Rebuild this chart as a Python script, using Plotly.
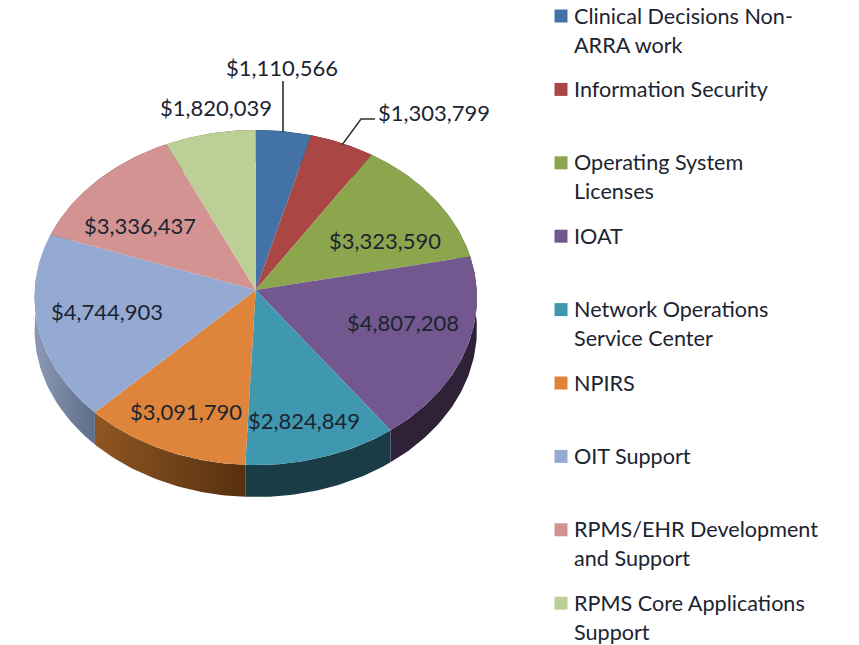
import math
import plotly.graph_objects as go

categories = ["Clinical Decisions Non-ARRA work", "Information Security", "Operating System Licenses",
              "IOAT", "Network Operations Service Center", "NPIRS", "OIT Support",
              "RPMS/EHR Development and Support", "RPMS Core Applications Support"]
values = [1110566, 1303799, 3323590, 4807208, 2824849, 3091790, 4744903, 3336437, 1820039]
legend_lines = [["Clinical Decisions Non-", "ARRA work"], ["Information Security"],
                ["Operating System", "Licenses"], ["IOAT"],
                ["Network Operations", "Service Center"], ["NPIRS"], ["OIT Support"],
                ["RPMS/EHR Development", "and Support"], ["RPMS Core Applications", "Support"]]
top_colors = ["#4372A6", "#AA4644", "#8CA64E", "#72588F", "#3F98B0", "#DF843B", "#94AAD3", "#D29392", "#BBCF96"]
wall_colors = [["#22395a", "#22395a"], ["#552220", "#552220"], ["#465327", "#465327"],
               ["#2e2138", "#2e2138"], ["#1a3c47", "#1a3c47"], ["#8f5622", "#56300f"],
               ["#8b9ab6", "#5d6e88"], ["#695050", "#695050"], ["#5d6850", "#5d6850"]]

# label anchor positions (pixels)
label_xy = [(282, 67), (434, 112), (385, 240.5), (403, 322.5), (304, 420.5), (186, 411.5), (107, 311.5), (140, 225.5), (216, 107)]

CX, CY, RX, SY, K, DEPTH = 255.7, 290.0, 221.0, 167.2, 0.0448, 32.0
FONT = "Lato"
TXT = "#1c2430"


def rim(frac):
    t = 2 * math.pi * frac
    u, v = math.sin(t), math.cos(t)
    w = 1 + K * v
    return CX + RX * u / w, CY - SY * v / w


total = sum(values)
fig = go.Figure()
cum = 0.0
arcs = []
for val in values:
    f0, f1 = cum / total, (cum + val) / total
    n = max(8, int((f1 - f0) * 360))
    arcs.append([rim(f0 + (f1 - f0) * i / n) for i in range(n + 1)])
    cum += val

# side walls
for arc, cols in zip(arcs, wall_colors):
    xs = [p[0] for p in arc] + [p[0] for p in reversed(arc)] + [arc[0][0]]
    ys = [p[1] for p in arc] + [p[1] + DEPTH for p in reversed(arc)] + [arc[0][1]]
    fig.add_trace(go.Scatter(x=xs, y=ys, mode="lines", line=dict(width=0), fill="toself",
                             fillcolor=cols[0],
                             fillgradient=dict(type="horizontal", colorscale=[[0, cols[0]], [1, cols[1]]]),
                             hoverinfo="skip", showlegend=False))

# top faces
for arc, col, name in zip(arcs, top_colors, categories):
    xs = [CX] + [p[0] for p in arc] + [CX]
    ys = [CY] + [p[1] for p in arc] + [CY]
    fig.add_trace(go.Scatter(x=xs, y=ys, mode="lines", line=dict(width=0), fill="toself",
                             fillcolor=col, name=name, hoverinfo="name", showlegend=False))

# leader lines
fig.add_trace(go.Scatter(x=[283, 283], y=[81, 132], mode="lines", line=dict(color="#222", width=1.5),
                         hoverinfo="skip", showlegend=False))
fig.add_trace(go.Scatter(x=[342, 361, 375], y=[145, 119, 119], mode="lines", line=dict(color="#333", width=1.5),
                         hoverinfo="skip", showlegend=False))

annotations = []
for val, (x, y) in zip(values, label_xy):
    annotations.append(dict(x=x, y=y, text=f"${val:,}", showarrow=False, xanchor="center", yanchor="middle",
                            font=dict(family=FONT, size=22, color=TXT)))

# legend
LEG_X, LEG_Y0, LEG_STEP, LINE = 561, 16, 73.4, 29
fig.add_trace(go.Scatter(x=[LEG_X] * len(categories), y=[LEG_Y0 + i * LEG_STEP for i in range(len(categories))],
                         mode="markers", marker=dict(symbol="square", size=13, color=top_colors),
                         hoverinfo="skip", showlegend=False))
for i, lines in enumerate(legend_lines):
    for j, ln in enumerate(lines):
        annotations.append(dict(x=572, y=LEG_Y0 - 0.5 + i * LEG_STEP + j * LINE, text=ln, showarrow=False,
                                xanchor="left", yanchor="middle",
                                font=dict(family=FONT, size=21.6, color=TXT)))

fig.update_layout(width=859, height=645, margin=dict(l=0, r=0, t=0, b=0), paper_bgcolor="white",
                  plot_bgcolor="white", annotations=annotations,
                  xaxis=dict(range=[0, 859], visible=False, fixedrange=True),
                  yaxis=dict(range=[645, 0], visible=False, fixedrange=True))
fig.write_html("out.html", config=dict(displayModeBar=False),
               post_script="document.body.style.margin='0';document.body.style.overflow='hidden';")
